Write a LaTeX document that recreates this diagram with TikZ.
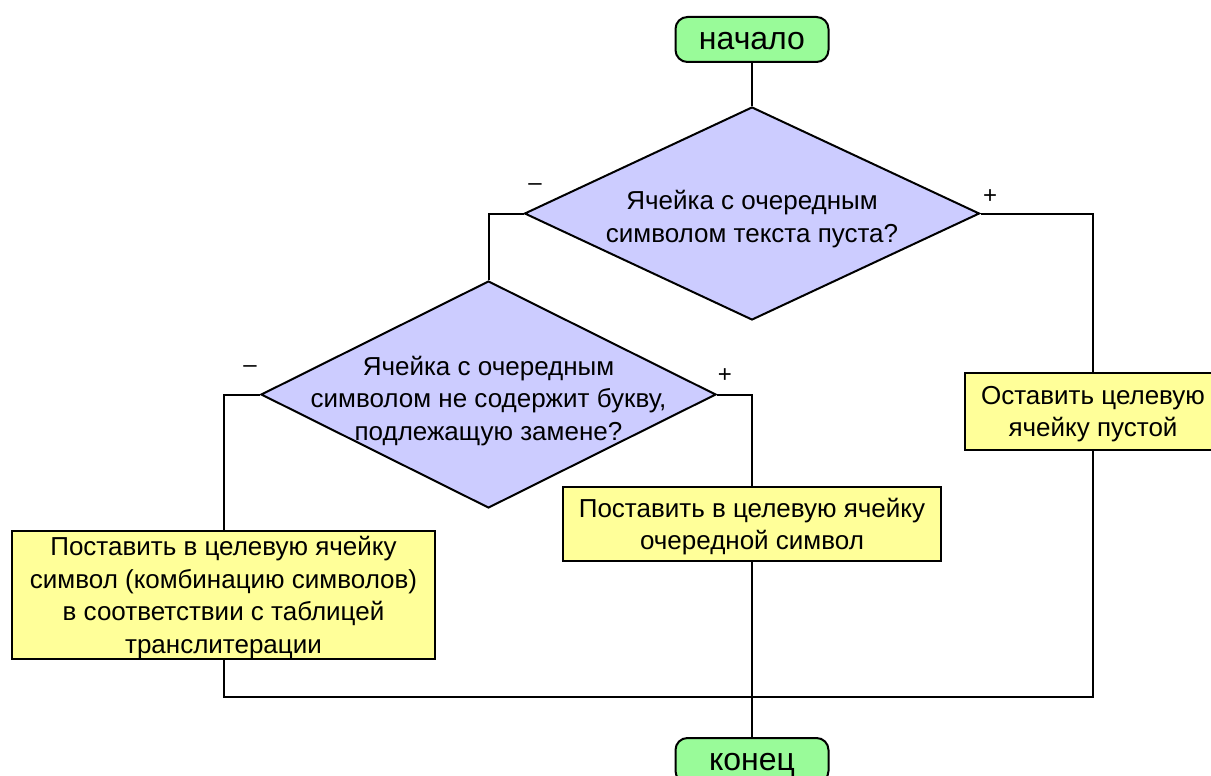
\documentclass[tikz,border=0pt]{standalone}
\usepackage{fontspec}
\setmainfont{Liberation Sans}
\usetikzlibrary{shapes.geometric}
\definecolor{termfill}{HTML}{99FB99}
\definecolor{decfill}{HTML}{CCCCFF}
\definecolor{actfill}{HTML}{FFFF99}
\begin{document}
\begin{tikzpicture}[x=1pt,y=-1pt,
  line width=2pt,
  term/.style={draw, fill=termfill, rounded corners=12pt, minimum width=153pt, minimum height=45pt, inner sep=0pt, text height=20pt, text depth=0pt, font=\fontsize{32}{36}\selectfont},
  decision/.style={draw, fill=decfill, diamond, inner sep=0pt, minimum width=455pt},
  dtext/.style={align=center, inner sep=0pt, font=\fontsize{26}{32.5}\selectfont},
  act/.style={draw, fill=actfill, align=center, inner sep=0pt, text depth=0pt, font=\fontsize{26}{32.5}\selectfont},
  sign/.style={inner sep=0pt, font=\fontsize{24}{24}\selectfont},
  conn/.style={line width=2pt}]
\useasboundingbox (0,0) rectangle (1211,776);
\node[term] (start) at (752,39.5) {начало};
\node[decision, minimum height=213pt] (q1) at (752,213.5) {};
\node[dtext] (q1t) at (752,219) {Ячейка с очередным\\символом текста пуста?};
\node[decision, minimum height=227pt] (q2) at (488.5,394.5) {};
\node[dtext] (q2t) at (488.5,401) {Ячейка с очередным\\символом не содержит букву,\\подлежащую замене?};
\node[act, minimum width=256pt, minimum height=77pt] (keep) at (1093,411.5) {Оставить целевую\\ячейку пустой};
\node[act, minimum width=423pt, minimum height=128pt] (trans) at (223.5,595) {Поставить в целевую ячейку\\символ (комбинацию символов)\\в соответствии с таблицей\\транслитерации};
\node[act, minimum width=378pt, minimum height=74pt] (copy) at (752,524) {Поставить в целевую ячейку\\очередной символ};
\node[term] (end) at (752,760.5) {конец};
\coordinate (j) at (752,697);
\node[sign] (m1) at (535,187) {–};
\node[sign] (p1) at (990,197) {+};
\node[sign] (m2) at (250,369) {–};
\node[sign] (p2) at (725,376) {+};
\draw[conn] (start.south) -- (q1.north);
\draw[conn] (q1.west) -| (q2.north);
\draw[conn] (q1.east) -| (keep.north);
\draw[conn] (q2.west) -| (trans.north);
\draw[conn] (q2.east) -| (copy.north);
\draw[conn] (copy.south) -- (end.north);
\draw[conn] (trans.south) |- (j) -| (keep.south);
\end{tikzpicture}
\end{document}
